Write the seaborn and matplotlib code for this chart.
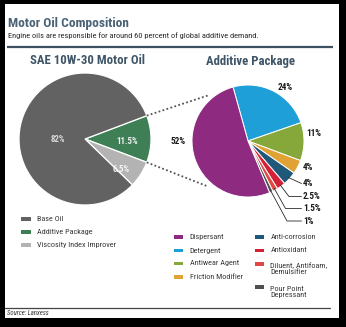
import matplotlib
matplotlib.use("Agg")
import matplotlib.pyplot as plt
import seaborn as sns
import numpy as np
from matplotlib import font_manager
from matplotlib.patches import Rectangle

sns.set_theme(style="white")
names = {f.name for f in font_manager.fontManager.ttflist}
FONT = "DejaVu Sans"
for cand in ["Liberation Sans Narrow", "Roboto Condensed", "Open Sans Condensed", "Roboto"]:
    if cand in names:
        FONT = cand
        break
plt.rcParams['font.family'] = [FONT, 'DejaVu Sans']

# ---------------- data ----------------
oil_labels = ["Base Oil", "Additive Package", "Viscosity Index Improver"]
oil_values = [82, 11.5, 6.5]
oil_pct_text = ["82%", "11.5%", "6.5%"]
oil_colors = ["#626262", "#3f7f55", "#b3b3b3"]

add_labels = ["Dispersant", "Detergent", "Antiwear Agent", "Friction Modifier",
              "Anti-corrosion", "Antioxidant", "Diluent, Antifoam,\nDemulsifier",
              "Pour Point\nDepressant"]
add_values = [52, 24, 11, 4, 4, 2.5, 1.5, 1]
add_pct_text = ["52%", "24%", "11%", "4%", "4%", "2.5%", "1.5%", "1%"]
add_colors = ["#8e2a80", "#1e9fd8", "#86a83a", "#e0a135", "#1f5878",
              "#d42138", "#e04a45", "#4f4f4f"]

H = 327
def Y(y):
    return H - y

fig = plt.figure(figsize=(3.46, 3.27), dpi=100, facecolor="black")
ax = fig.add_axes([0, 0, 1, 1])
ax.add_patch(Rectangle((5, Y(318)), 334, 314, facecolor="white", edgecolor="none", zorder=0))

# ---------------- left pie ----------------
oil_order = [1, 2, 0]
lc, lr = (85, Y(139)), 66
wl, _ = ax.pie([oil_values[i] for i in oil_order], colors=[oil_colors[i] for i in oil_order],
               startangle=oil_values[1] * 3.6 / 2, counterclock=False, center=lc, radius=lr,
               wedgeprops=dict(edgecolor="white", linewidth=0.9), frame=True)
oil_lab_pos = {0: (58, 139), 1: (127, 142), 2: (121, 170)}
oil_lab_col = {0: "#d8d8d8", 1: "#f0f0f0", 2: "#f4f4f4"}
for i, (x, y) in oil_lab_pos.items():
    ax.text(x, Y(y), oil_pct_text[i], ha="center", va="center", fontsize=6.4,
            color=oil_lab_col[i], fontweight="bold")

# ---------------- right pie ----------------
add_order = [1, 2, 3, 4, 5, 6, 7, 0]
rc, rr = (248, Y(141)), 56
wr, _ = ax.pie([add_values[i] for i in add_order], colors=[add_colors[i] for i in add_order],
               startangle=105.5, counterclock=False, center=rc, radius=rr,
               wedgeprops=dict(edgecolor="white", linewidth=0.7), frame=True)

# connector dotted lines
wg = wl[0]
for ang_l, ang_r in [(wg.theta2, 131), (wg.theta1, -131)]:
    p0 = (lc[0] + lr * np.cos(np.radians(ang_l)), lc[1] + lr * np.sin(np.radians(ang_l)))
    p1 = (rc[0] + rr * 1.08 * np.cos(np.radians(ang_r)), rc[1] + rr * 1.08 * np.sin(np.radians(ang_r)))
    ax.plot([p0[0], p1[0]], [p0[1], p1[1]], ls=(0, (1, 1.3)), lw=1.3, color="#555555")

# right pie labels: (text x left, text y, elbow x or None, leader?)
add_lab = {0: (171, 141.5, None, False), 1: (278, 88, None, False),
           2: (306.5, 133, None, False), 3: (303, 167, None, False),
           4: (303, 183.5, None, True), 5: (303, 196.5, 289, True),
           6: (303, 208.5, 285.5, True), 7: (303, 221, 287, True)}
wedge_of = {cat: wr[k] for k, cat in enumerate(add_order)}
for i, (tx, ty, ex, leader) in add_lab.items():
    ax.text(tx, Y(ty), add_pct_text[i], ha="left", va="center", fontsize=6.6,
            color="#1a1a1a", fontweight="bold")
    if leader:
        w = wedge_of[i]
        mid = np.radians((w.theta1 + w.theta2) / 2)
        sx, sy = rc[0] + rr * 0.97 * np.cos(mid), rc[1] + rr * 0.97 * np.sin(mid)
        if ex is None:
            xs, ys = [sx, tx - 1.5], [sy, Y(ty)]
        else:
            xs, ys = [sx, ex, tx - 1.5], [sy, Y(ty), Y(ty)]
        ax.plot(xs, ys, color="#2a2a2a", lw=0.6)

# ---------------- titles ----------------
ax.text(8, Y(23.5), "Motor Oil Composition", fontsize=9.6, fontweight="bold",
        color="#4a6376", ha="left", va="center")
ax.text(8, Y(36), "Engine oils are responsible for around 60 percent of global additive demand.",
        fontsize=6.0, color="#2a2a2a", ha="left", va="center")
ax.plot([7, 333], [Y(46.5), Y(46.5)], color="#3e5162", lw=1.6, solid_capstyle="butt")
ax.text(87, Y(60), "SAE 10W-30 Motor Oil", fontsize=9.2, fontweight="bold",
        color="#3f5567", ha="center", va="center")
ax.text(250, Y(62), "Additive Package", fontsize=9.2, fontweight="bold",
        color="#3f5567", ha="center", va="center")

# ---------------- legends ----------------
def legend_item(x, y, color, label):
    ax.add_patch(Rectangle((x, Y(y) - 1.8), 9.5, 3.6, facecolor=color, edgecolor="none"))
    nlines = label.count("\n") + 1
    ax.text(x + 16, Y(y + 4.6 * (nlines - 1)), label, fontsize=5.9, color="#3a3a3a",
            ha="left", va="center", linespacing=1.0)

for k, y in enumerate([219, 232, 245]):
    legend_item(21, y, oil_colors[k], oil_labels[k])

col1_y = [237, 250.5, 263.5, 277]
for k in range(4):
    legend_item(173.5, col1_y[k], add_colors[k], add_labels[k])
col2_y = [237, 250.5, 264, 287]
for k in range(4):
    legend_item(254.5, col2_y[k], add_colors[4 + k], add_labels[4 + k])

# ---------------- footer ----------------
ax.plot([5, 330], [Y(308), Y(308)], color="#444444", lw=0.9)
ax.text(7, Y(313), "Source: Lanxess", fontsize=4.8, style="italic", color="#333333",
        ha="left", va="center")

ax.set_xlim(0, 346)
ax.set_ylim(0, 327)
ax.set_aspect("equal")
ax.axis("off")
fig.savefig("out.png", dpi=100, facecolor="black")
